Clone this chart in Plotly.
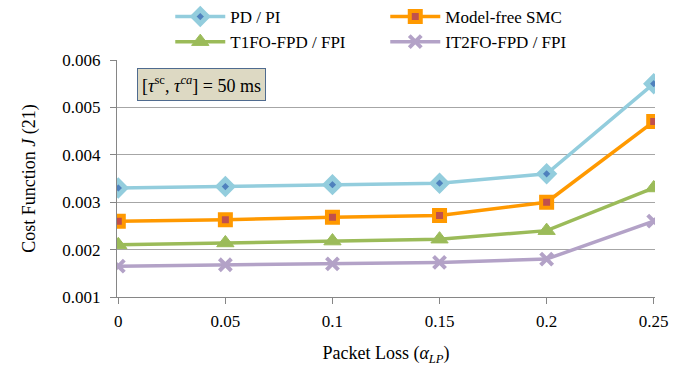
import plotly.graph_objects as go

packet_loss = [0, 0.05, 0.1, 0.15, 0.2, 0.25]
pd_pi = [0.0033, 0.00333, 0.00337, 0.0034, 0.0036, 0.0055]
smc = [0.0026, 0.00263, 0.00268, 0.00272, 0.0030, 0.0047]
t1fo = [0.0021, 0.00214, 0.00218, 0.00222, 0.0024, 0.0033]
it2fo = [0.00165, 0.00168, 0.0017, 0.00173, 0.0018, 0.0026]
x_ticks = [0, 0.05, 0.1, 0.15, 0.2, 0.25]
x_tick_labels = ["0", "0.05", "0.1", "0.15", "0.2", "0.25"]
y_ticks = [0.001, 0.002, 0.003, 0.004, 0.005, 0.006]
y_tick_labels = ["0.001", "0.002", "0.003", "0.004", "0.005", "0.006"]

FONT = "Liberation Serif"

fig = go.Figure()
fig.add_trace(go.Scatter(
    x=packet_loss, y=pd_pi, name="PD / PI", mode="lines+markers",
    line=dict(color="#93CDDD", width=3.5),
    marker=dict(symbol="diamond", size=11, color="#4F81BD",
                line=dict(color="#93CDDD", width=5))))
fig.add_trace(go.Scatter(
    x=packet_loss, y=smc, name="Model-free SMC", mode="lines+markers",
    line=dict(color="#FF9900", width=3.5),
    marker=dict(symbol="square", size=11, color="#C0504D",
                line=dict(color="#FF9900", width=4))))
fig.add_trace(go.Scatter(
    x=packet_loss, y=t1fo, name="T1FO-FPD / FPI", mode="lines+markers",
    line=dict(color="#9BBB59", width=3.5),
    marker=dict(symbol="triangle-up", size=15, color="#9BBB59",
                line=dict(color="#9BBB59", width=1))))
fig.add_trace(go.Scatter(
    x=packet_loss, y=it2fo, name="IT2FO-FPD / FPI", mode="lines+markers",
    line=dict(color="#B3A2C7", width=3.5),
    marker=dict(symbol="x-thin", size=12, color="#B3A2C7",
                line=dict(color="#B3A2C7", width=4))))

fig.add_annotation(
    xref="paper", yref="paper", x=0.037, y=0.966, xanchor="left", yanchor="top",
    text="[<i>τ</i><sup>sc</sup>, <i>τ</i><sup><i>ca</i></sup>] = 50 ms",
    showarrow=False, font=dict(family=FONT, size=18, color="black"),
    bgcolor="#DDD9C3", bordercolor="#4F6B8F", borderwidth=1, borderpad=4)

fig.update_layout(
    width=687, height=366,
    margin=dict(l=117, r=32, t=60, b=69, autoexpand=False),
    paper_bgcolor="white", plot_bgcolor="white",
    font=dict(family=FONT, size=17, color="black"),
    showlegend=True,
    legend=dict(orientation="h", x=0.099, y=1.0, xanchor="left", yanchor="bottom",
                entrywidth=150, entrywidthmode="pixels",
                font=dict(family=FONT, size=17), tracegroupgap=0,
                bgcolor="rgba(0,0,0,0)", itemwidth=50),
    xaxis=dict(range=[-0.0006, 0.2506], tickvals=x_ticks, ticktext=x_tick_labels,
               showgrid=False, zeroline=False, showline=True, linecolor="#868686",
               linewidth=1, ticks="outside", ticklen=6, tickcolor="#868686",
               ticklabelstandoff=3,
               tickfont=dict(family=FONT, size=17),
               title=dict(text="Packet Loss (<i>α</i><sub><i>LP</i></sub>)",
                          font=dict(family=FONT, size=18), standoff=16)),
    yaxis=dict(range=[0.001, 0.006], tickvals=y_ticks, ticktext=y_tick_labels,
               showgrid=True, gridcolor="#A6A6A6", gridwidth=1, zeroline=False,
               showline=True, linecolor="#868686", linewidth=1,
               ticks="outside", ticklen=6, tickcolor="#868686",
               ticklabelstandoff=6,
               tickfont=dict(family=FONT, size=17),
               title=dict(text="Cost Function <i>J</i> (21)",
                          font=dict(family=FONT, size=18), standoff=22)),
)

fig.write_html("out.html", config={"displayModeBar": False},
               post_script="document.body.style.margin='0px';")
